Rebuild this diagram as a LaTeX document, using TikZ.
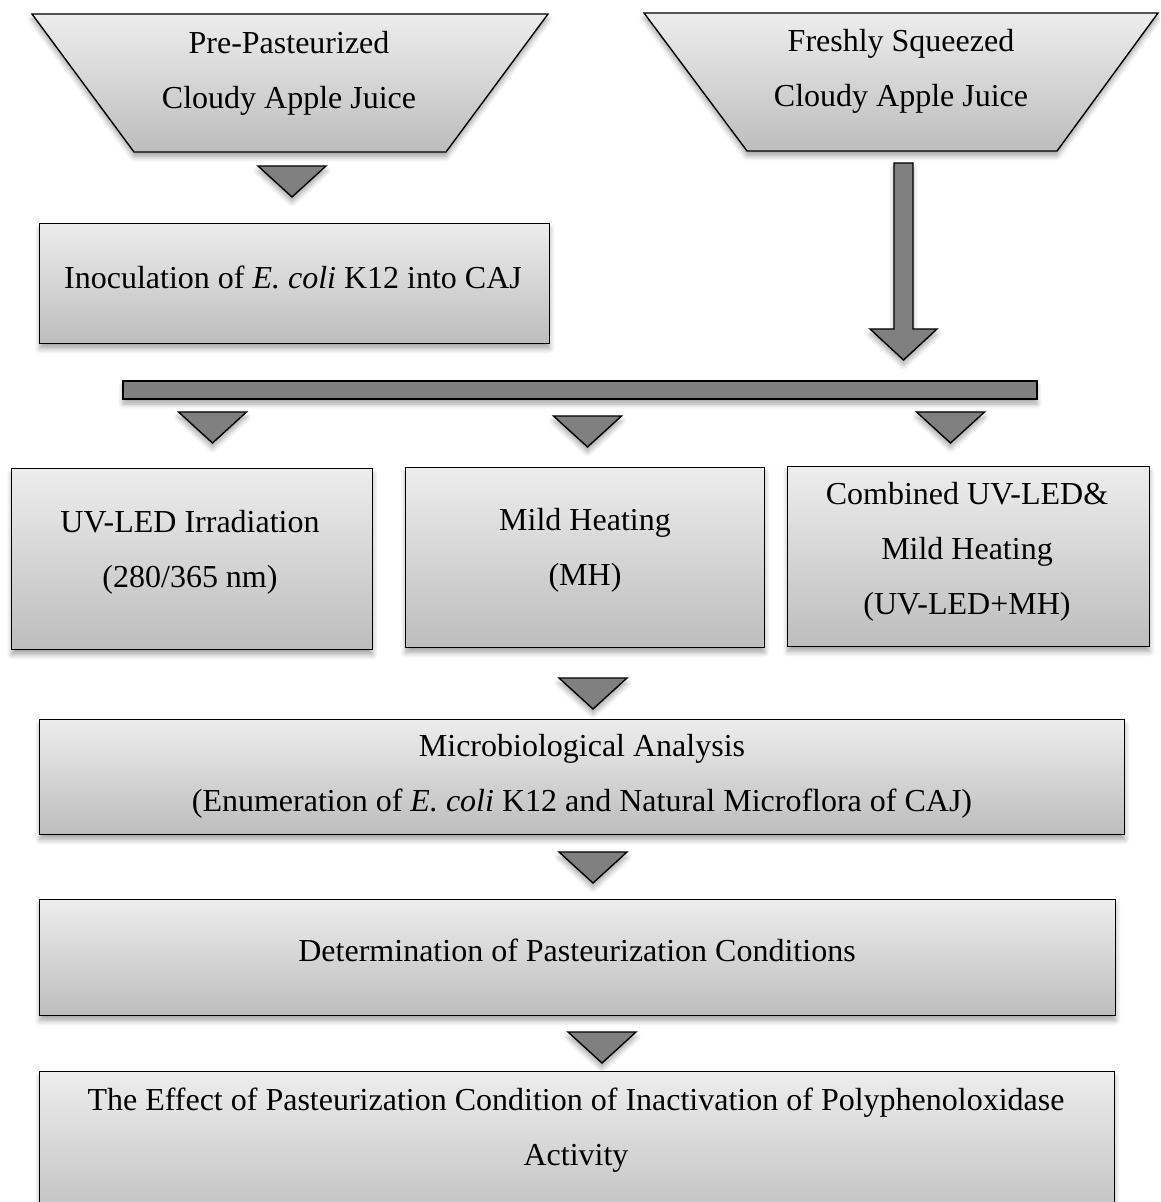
\documentclass[tikz,border=0pt]{standalone}
\usepackage{fontspec}
\setmainfont{Liberation Serif}
\usetikzlibrary{shadows.blur}
\definecolor{boxtop}{HTML}{EDEDED}
\definecolor{boxbot}{HTML}{BDBDBD}
\definecolor{arrowgray}{HTML}{808080}
\tikzset{
  shad/.style={blur shadow={shadow xshift=0pt, shadow yshift=-2.5pt, shadow blur steps=6, shadow blur radius=2.5pt, shadow opacity=35}},
  boxnode/.style={rectangle, draw=black, line width=0.7pt, top color=boxtop, bottom color=boxbot, shad, anchor=north west, inner sep=0pt},
  shapebox/.style={draw=black, line width=0.7pt, top color=boxtop, bottom color=boxbot, shad},
  arrowshape/.style={draw=black, line width=0.7pt, fill=arrowgray, shad, line join=miter},
  txt/.style={font=\fontsize{16pt}{27.5pt}\selectfont, align=center, inner sep=0pt},
  tri/.pic={\path[arrowshape] (-34,0) -- (34,0) -- (0,31) -- cycle;}
}
\begin{document}
\begin{tikzpicture}[x=0.5pt, y=-0.5pt]
\useasboundingbox (0,0) rectangle (1160,1202);
\clip (0,0) rectangle (1160,1202);
% top trapezoids
\path[shapebox] (32,14) -- (548,14) -- (446,152) -- (134,152) -- cycle;
\node[txt] (pre) at (289,73) {Pre-Pasteurized\\Cloudy Apple Juice};
\path[shapebox] (644,13) -- (1158,13) -- (1057,151) -- (747,151) -- cycle;
\node[txt] (fresh) at (901,71) {Freshly Squeezed\\Cloudy Apple Juice};
% arrows top
\pic at (292,166) {tri};
\path[arrowshape] (894,163) -- (913,163) -- (913,329) -- (937,329) -- (903.5,360) -- (870,329) -- (894,329) -- cycle;
% inoculation
\node[boxnode, minimum width=255pt, minimum height=60pt] (inocbox) at (39,223) {};
\node[txt] (inoc) at (293,277) {Inoculation of \textit{E. coli} K12 into CAJ};
% bar
\path[arrowshape] (123,381) rectangle (1037,399);
\pic at (212.5,412) {tri};
\pic at (587.5,416) {tri};
\pic at (950.5,412) {tri};
% three boxes
\node[boxnode, minimum width=180.5pt, minimum height=90.5pt] (uvbox) at (11,468) {};
\node[txt] (uv) at (190,552) {UV-LED Irradiation\\(280/365 nm)};
\node[boxnode, minimum width=179.5pt, minimum height=90pt] (mhbox) at (405,467) {};
\node[txt] (mh) at (585,550) {Mild Heating\\(MH)};
\node[boxnode, minimum width=181pt, minimum height=90pt] (combbox) at (787,466) {};
\node[txt] (comb) at (967,552) {Combined UV-LED\&\\Mild Heating\\(UV-LED+MH)};
% lower chain
\pic at (593,678) {tri};
\node[boxnode, minimum width=542.5pt, minimum height=57.5pt] (microbox) at (39,719) {};
\node[txt] (micro) at (582,776) {Microbiological Analysis\\(Enumeration of \textit{E. coli} K12 and Natural Microflora of CAJ)};
\pic at (593,852) {tri};
\node[boxnode, minimum width=538pt, minimum height=58pt] (detbox) at (39,899) {};
\node[txt] (det) at (577,950) {Determination of Pasteurization Conditions};
\pic at (602,1032) {tri};
\node[boxnode, minimum width=537.5pt, minimum height=80pt] (effbox) at (39,1071) {};
\node[txt] (eff) at (576,1130) {The Effect of Pasteurization Condition of Inactivation of Polyphenoloxidase\\Activity};
\end{tikzpicture}
\end{document}
